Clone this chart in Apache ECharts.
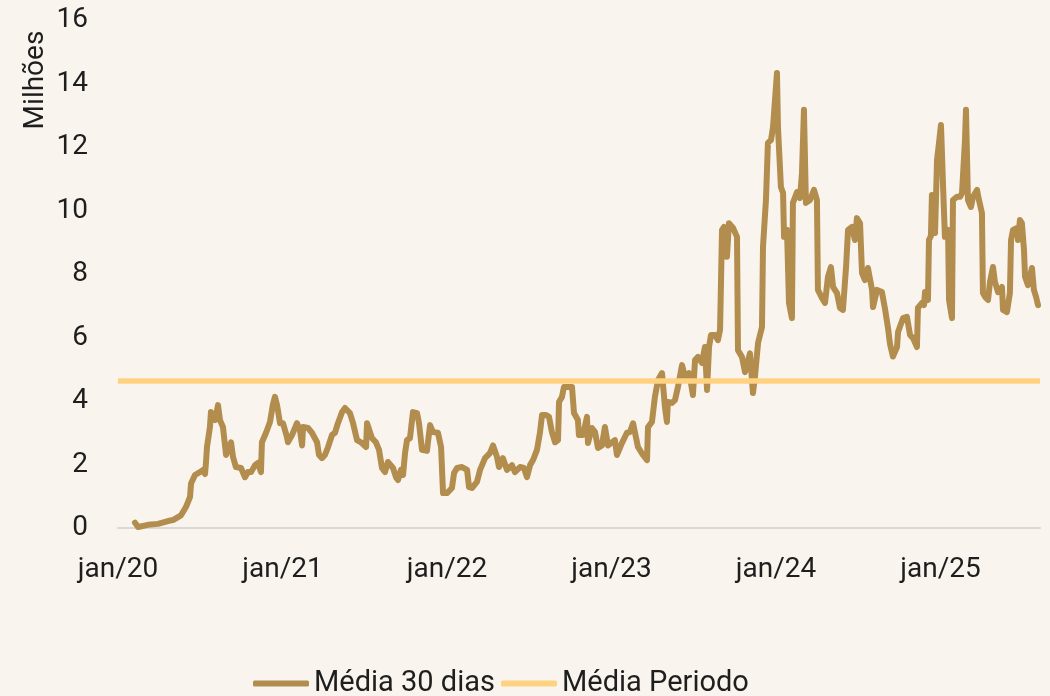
<!DOCTYPE html>
<html>
<head>
<meta charset="utf-8">
<script src="https://cdn.jsdelivr.net/npm/echarts@6/dist/echarts.min.js"></script>
<style>
  html, body { margin: 0; padding: 0; background: #f9f5ee; }
  #chart-container { width: 1050px; height: 696px; }
</style>
</head>
<body>
<div id="chart-container"></div>
<script>
// datas em anos decimais (2020.5 = meio de 2020)
const anos = [
  2020.103, 2020.122, 2020.182, 2020.243, 2020.304, 2020.334, 2020.383, 2020.413, 2020.438, 2020.444,
  2020.468, 2020.498, 2020.517, 2020.529, 2020.535, 2020.541, 2020.559, 2020.565, 2020.590, 2020.608,
  2020.620, 2020.638, 2020.657, 2020.687, 2020.699, 2020.717, 2020.748, 2020.772, 2020.790, 2020.809,
  2020.833, 2020.851, 2020.869, 2020.875, 2020.900, 2020.924, 2020.942, 2020.954, 2020.967, 2020.985,
  2021.003, 2021.027, 2021.033, 2021.058, 2021.088, 2021.106, 2021.119, 2021.125, 2021.155, 2021.179,
  2021.210, 2021.222, 2021.240, 2021.258, 2021.277, 2021.301, 2021.319, 2021.337, 2021.362, 2021.380,
  2021.410, 2021.429, 2021.453, 2021.477, 2021.489, 2021.508, 2021.514, 2021.526, 2021.544, 2021.568,
  2021.587, 2021.605, 2021.623, 2021.641, 2021.672, 2021.690, 2021.702, 2021.720, 2021.733, 2021.745,
  2021.757, 2021.775, 2021.793, 2021.818, 2021.830, 2021.848, 2021.878, 2021.897, 2021.915, 2021.945,
  2021.964, 2021.976, 2022.000, 2022.030, 2022.043, 2022.061, 2022.091, 2022.122, 2022.134, 2022.152,
  2022.182, 2022.201, 2022.231, 2022.261, 2022.280, 2022.304, 2022.316, 2022.340, 2022.365, 2022.395,
  2022.413, 2022.444, 2022.468, 2022.486, 2022.505, 2022.523, 2022.547, 2022.565, 2022.578, 2022.602,
  2022.620, 2022.638, 2022.657, 2022.675, 2022.681, 2022.699, 2022.711, 2022.742, 2022.760, 2022.772,
  2022.796, 2022.802, 2022.827, 2022.851, 2022.857, 2022.881, 2022.900, 2022.918, 2022.942, 2022.960,
  2022.979, 2023.021, 2023.033, 2023.064, 2023.094, 2023.112, 2023.131, 2023.161, 2023.191, 2023.216,
  2023.222, 2023.246, 2023.264, 2023.283, 2023.307, 2023.325, 2023.337, 2023.343, 2023.368, 2023.386,
  2023.404, 2023.429, 2023.447, 2023.471, 2023.483, 2023.495, 2023.508, 2023.526, 2023.550, 2023.568,
  2023.581, 2023.593, 2023.605, 2023.629, 2023.647, 2023.660, 2023.672, 2023.684, 2023.702, 2023.714,
  2023.739, 2023.763, 2023.769, 2023.793, 2023.812, 2023.842, 2023.860, 2023.872, 2023.891, 2023.915,
  2023.921, 2023.939, 2023.951, 2023.970, 2023.982, 2023.994, 2024.006, 2024.012, 2024.018, 2024.030,
  2024.043, 2024.049, 2024.067, 2024.079, 2024.097, 2024.103, 2024.128, 2024.146, 2024.158, 2024.170,
  2024.182, 2024.207, 2024.231, 2024.249, 2024.255, 2024.280, 2024.298, 2024.316, 2024.334, 2024.347,
  2024.371, 2024.389, 2024.407, 2024.426, 2024.438, 2024.462, 2024.480, 2024.492, 2024.511, 2024.523,
  2024.541, 2024.559, 2024.584, 2024.590, 2024.614, 2024.644, 2024.663, 2024.681, 2024.693, 2024.711,
  2024.736, 2024.742, 2024.772, 2024.796, 2024.815, 2024.833, 2024.857, 2024.863, 2024.888, 2024.900,
  2024.906, 2024.924, 2024.930, 2024.942, 2024.948, 2024.960, 2024.967, 2024.979, 2024.991, 2025.003,
  2025.009, 2025.015, 2025.027, 2025.046, 2025.052, 2025.070, 2025.076, 2025.100, 2025.119, 2025.131,
  2025.149, 2025.155, 2025.167, 2025.185, 2025.198, 2025.222, 2025.234, 2025.252, 2025.258, 2025.271,
  2025.289, 2025.301, 2025.319, 2025.331, 2025.350, 2025.374, 2025.380, 2025.404, 2025.422, 2025.429,
  2025.441, 2025.465, 2025.471, 2025.483, 2025.495, 2025.508, 2025.514, 2025.532, 2025.556, 2025.568,
  2025.581, 2025.593
];

// média móvel 30 dias, em milhões
const media30 = [
  0.17, 0.03, 0.10, 0.13, 0.22, 0.25, 0.40, 0.66, 0.98, 1.40,
  1.67, 1.76, 1.83, 1.70, 2.08, 2.55, 3.18, 3.65, 3.40, 3.87,
  3.40, 3.18, 2.30, 2.70, 2.24, 1.92, 1.89, 1.60, 1.76, 1.76,
  1.98, 2.05, 1.76, 2.70, 3.00, 3.34, 3.90, 4.13, 3.87, 3.30,
  3.30, 2.87, 2.70, 2.93, 3.30, 3.09, 2.60, 3.18, 3.15, 3.00,
  2.70, 2.30, 2.20, 2.30, 2.55, 2.93, 3.00, 3.30, 3.65, 3.78,
  3.62, 3.30, 2.77, 2.70, 2.68, 2.55, 3.30, 3.34, 2.83, 2.70,
  2.46, 1.89, 1.76, 2.08, 1.89, 1.60, 1.51, 1.83, 1.67, 2.36,
  2.77, 2.83, 3.65, 3.62, 3.30, 2.46, 2.43, 3.24, 3.02, 3.00,
  2.55, 1.10, 1.10, 1.26, 1.73, 1.89, 1.92, 1.83, 1.29, 1.26,
  1.45, 1.83, 2.20, 2.36, 2.60, 2.24, 1.92, 2.20, 1.83, 1.98,
  1.76, 1.92, 1.89, 1.60, 1.98, 2.14, 2.46, 3.00, 3.56, 3.56,
  3.50, 3.02, 2.70, 2.77, 3.97, 4.13, 4.44, 4.44, 4.44, 3.62,
  3.40, 2.93, 2.93, 3.50, 2.68, 3.15, 3.02, 2.52, 2.60, 3.18,
  2.60, 2.77, 2.30, 2.68, 3.00, 3.02, 3.30, 2.55, 2.30, 2.14,
  3.18, 3.34, 4.13, 4.66, 4.88, 3.81, 3.34, 3.97, 3.94, 4.03,
  4.44, 5.13, 4.76, 4.88, 4.57, 4.19, 5.29, 5.39, 5.20, 5.70,
  4.35, 5.70, 6.08, 6.08, 5.92, 6.24, 9.39, 9.48, 8.54, 9.60,
  9.45, 9.17, 5.60, 5.39, 4.91, 5.50, 4.25, 4.76, 5.83, 6.33,
  8.85, 10.33, 12.13, 12.22, 12.63, 13.48, 14.33, 12.63, 12.63, 10.74,
  10.55, 9.17, 9.39, 7.09, 6.61, 10.24, 10.58, 10.39, 11.18, 13.17,
  10.24, 10.33, 10.65, 10.33, 7.50, 7.24, 7.09, 7.91, 8.22, 7.59,
  7.40, 6.93, 6.87, 8.22, 9.39, 9.48, 9.07, 9.76, 9.60, 8.03,
  7.81, 8.19, 7.50, 6.96, 7.50, 7.43, 6.90, 6.30, 5.80, 5.40,
  5.70, 6.17, 6.61, 6.65, 6.08, 5.98, 5.70, 6.93, 7.09, 7.02,
  7.43, 7.18, 9.07, 9.20, 10.49, 10.49, 9.29, 11.59, 12.13, 12.69,
  11.81, 10.87, 9.17, 9.39, 7.18, 6.61, 10.33, 10.43, 10.43, 10.55,
  12.22, 13.17, 10.33, 10.11, 10.43, 10.65, 10.33, 9.92, 7.40, 7.28,
  7.18, 7.75, 8.22, 7.75, 7.43, 7.59, 6.87, 6.80, 7.40, 9.07,
  9.39, 9.45, 9.07, 9.70, 9.60, 8.73, 7.91, 7.65, 8.19, 7.50,
  7.28, 7.02
];

const mediaPeriodo = 4.63;
const inicio = 2020;
const fim = 2025.605;
const rotulosAno = { 2020: 'jan/20', 2021: 'jan/21', 2022: 'jan/22', 2023: 'jan/23', 2024: 'jan/24', 2025: 'jan/25' };

const fonte = 'Roboto';
const corTexto = '#1e1e1e';
const corLinha = '#b28d4d';
const corMedia = '#ffd282';

var dom = document.getElementById('chart-container');
var myChart = echarts.init(dom, null, { renderer: 'canvas' });

var option = {
  backgroundColor: '#f9f5ee',
  animation: false,
  textStyle: { fontFamily: fonte, color: corTexto },
  grid: { left: 118, right: 10, top: 20, bottom: 168 },
  legend: {
    left: 248,
    top: 664,
    icon: 'roundRect',
    itemWidth: 56,
    itemHeight: 6,
    itemGap: 6,
    textStyle: { fontSize: 29, color: corTexto, fontFamily: fonte },
    data: ['Média 30 dias', 'Média Periodo']
  },
  graphic: [{
    type: 'text',
    x: 36,
    y: 80,
    rotation: Math.PI / 2,
    style: {
      text: 'Milhões',
      fontSize: 28,
      fontFamily: fonte,
      fill: corTexto,
      align: 'center',
      verticalAlign: 'middle'
    }
  }],
  xAxis: {
    type: 'value',
    min: inicio,
    max: fim,
    interval: 1,
    axisLine: { show: true, lineStyle: { color: '#d9d9d9', width: 2 } },
    axisTick: { show: false },
    splitLine: { show: false },
    axisLabel: {
      margin: 28,
      fontSize: 28,
      color: corTexto,
      showMaxLabel: false,
      formatter: function (v) { return rotulosAno[v] || ''; }
    }
  },
  yAxis: {
    type: 'value',
    min: 0,
    max: 16,
    interval: 2,
    axisLine: { show: false },
    axisTick: { show: false },
    splitLine: { show: false },
    axisLabel: { margin: 30, fontSize: 28, color: corTexto }
  },
  series: [
    {
      name: 'Média 30 dias',
      type: 'line',
      symbol: 'none',
      data: anos.map((a, i) => [a, media30[i]]),
      lineStyle: { color: corLinha, width: 6, join: 'round', cap: 'round' },
      itemStyle: { color: corLinha }
    },
    {
      name: 'Média Periodo',
      type: 'line',
      symbol: 'none',
      data: [[inicio, mediaPeriodo], [fim, mediaPeriodo]],
      lineStyle: { color: corMedia, width: 5.5 },
      itemStyle: { color: corMedia }
    }
  ]
};

myChart.setOption(option);
</script>
</body>
</html>
